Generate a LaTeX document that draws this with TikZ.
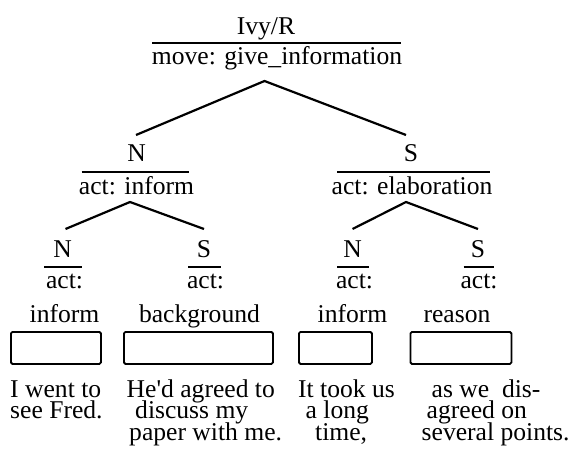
\documentclass[tikz,border=0pt]{standalone}
\usepackage{fontspec}
\setmainfont{Liberation Serif}
\begin{document}
\begin{tikzpicture}[x=1pt,y=-1pt,
  lbl/.style={inner sep=0pt,anchor=base,font=\fontsize{25.6}{21.5}\selectfont},
  ln/.style={inner sep=0pt,anchor=base west,text height=16.5pt,text depth=4.5pt,font=\fontsize{25.6}{21.5}\selectfont},
  rule/.style={line width=2pt},
  edge/.style={line width=2.2pt},
  seg/.style={draw,line width=1.8pt,rounded corners=1.5pt,inner sep=0pt,anchor=north west,minimum height=32pt}]
\useasboundingbox (0,0) rectangle (576,452);
% root
\node[lbl] (rootR) at (266,35) {Ivy/R};
\draw[rule] (152,43.5) -- (401,43.5);
\node[lbl] (rootA) at (277,65) {move: give\_information};
% level 2
\node[lbl] (nR) at (136.5,161) {N};
\draw[rule] (81.5,172) -- (188.5,172);
\node[lbl] (nA) at (136.5,194) {act: inform};
\node[lbl] (sR) at (411,161) {S};
\draw[rule] (337,172) -- (490,172);
\node[lbl] (sA) at (412,194) {act: elaboration};
% level 3
\node[lbl] (n1R) at (62.5,257) {N};
\draw[rule] (44,267) -- (81.5,267);
\node[lbl] (n1A) at (64.5,288) {act:};
\node[lbl] (n1B) at (64.5,322) {inform};
\node[lbl] (s1R) at (204,257) {S};
\draw[rule] (188,267) -- (220.5,267);
\node[lbl] (s1A) at (205.5,288) {act:};
\node[lbl] (s1B) at (199.5,322) {background};
\node[lbl] (n2R) at (352.5,257) {N};
\draw[rule] (337,267) -- (368.5,267);
\node[lbl] (n2A) at (354.5,288) {act:};
\node[lbl] (n2B) at (352.5,322) {inform};
\node[lbl] (s2R) at (478,257) {S};
\draw[rule] (463.5,267) -- (494,267);
\node[lbl] (s2A) at (479,288) {act:};
\node[lbl] (s2B) at (457,322) {reason};
% connectors
\coordinate (r0) at (264.5,81);
\coordinate (r1) at (136,135);
\coordinate (r2) at (406,135);
\draw[edge] (r1) -- (r0) -- (r2);
\coordinate (n0) at (130,202);
\coordinate (n1) at (65.5,229);
\coordinate (n2) at (204,229);
\draw[edge] (n1) -- (n0) -- (n2);
\coordinate (s0) at (406,202);
\coordinate (s1) at (352.5,229);
\coordinate (s2) at (478,229);
\draw[edge] (s1) -- (s0) -- (s2);
% boxes
\node[seg,minimum width=90pt] (b1) at (10,331) {};
\node[seg,minimum width=149pt] (b2) at (123,331) {};
\node[seg,minimum width=73pt] (b3) at (298,331) {};
\node[seg,minimum width=101pt] (b4) at (409.5,331) {};
% texts
\node[ln] (t11) at (10,397) {I went to};
\node[ln] (t12) at (10,418.5) {see Fred.};
\node[ln] (t21) at (126.5,397) {He\textquotesingle d agreed to};
\node[ln] (t22) at (135,418.5) {discuss my};
\node[ln] (t23) at (129,440) {paper with me.};
\node[ln] (t31) at (298,397) {It took us};
\node[ln] (t32) at (305.5,418.5) {a long};
\node[ln] (t33) at (315,440) {time,};
\node[ln] (t41) at (431.5,397) {as we\ \ dis-};
\node[ln] (t42) at (426.5,418.5) {agreed on};
\node[ln] (t43) at (421.5,440) {several points.};
\end{tikzpicture}
\end{document}
